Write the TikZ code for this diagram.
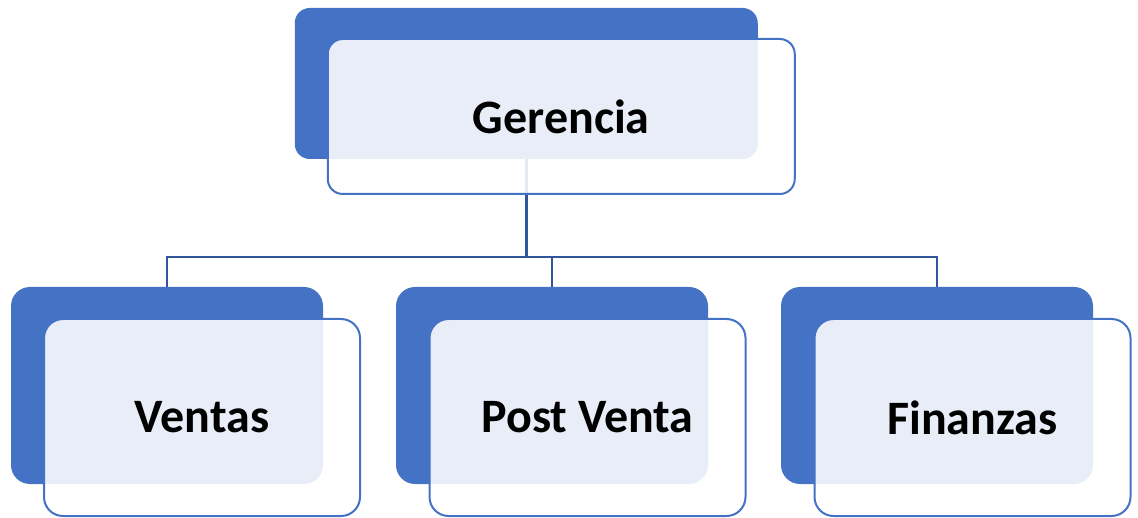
\documentclass[tikz,border=0pt]{standalone}
\usepackage{fontspec}
\setmainfont{Carlito}
\definecolor{accent}{RGB}{68,114,196}
\definecolor{linkblue}{RGB}{50,86,158}
\tikzset{
  back/.style={fill=accent, draw=none, rectangle, inner sep=0pt, outer sep=0pt},
  front/.style={draw=accent, line width=2pt, fill=white, fill opacity=0.88, text opacity=1,
    rectangle, inner sep=0pt, outer sep=0pt,
    font=\bfseries\fontsize{48}{58}\selectfont, text=black},
  link/.style={draw=linkblue, line width=2.6pt},
}
\begin{document}
\begin{tikzpicture}[x=1pt,y=-1pt]
  \useasboundingbox (0,0) rectangle (1138,518);
  % back plates
  \node[back, rounded corners=15pt, minimum width=463pt, minimum height=151pt] (g) at (526.25,83.5) {};
  \node[back, rounded corners=19pt, minimum width=312pt, minimum height=197pt] (v) at (167,385.5) {};
  \node[back, rounded corners=19pt, minimum width=312pt, minimum height=197pt] (p) at (552,385.5) {};
  \node[back, rounded corners=19pt, minimum width=312pt, minimum height=197pt] (f) at (937,385.5) {};
  % elbow connectors
  \coordinate (bus) at (0,257);
  \draw[link] (g.south) -- (g.south |- bus) -| (v.north);
  \draw[link] (g.south) -- (g.south |- bus) -| (p.north);
  \draw[link] (g.south) -- (g.south |- bus) -| (f.north);
  % front cards with labels
  \node[front, rounded corners=15pt, minimum width=467pt, minimum height=155pt] (gt) at (561.25,116.5) {Gerencia};
  \node[front, rounded corners=19pt, minimum width=316pt, minimum height=197pt] (vt) at (202,417.5) {Ventas};
  \node[front, rounded corners=19pt, minimum width=316pt, minimum height=197pt] (pt) at (587.5,417.5) {Post Venta};
  \node[front, rounded corners=19pt, minimum width=316pt, minimum height=197pt] (ft) at (972.5,417.5) {Finanzas};
\end{tikzpicture}
\end{document}
